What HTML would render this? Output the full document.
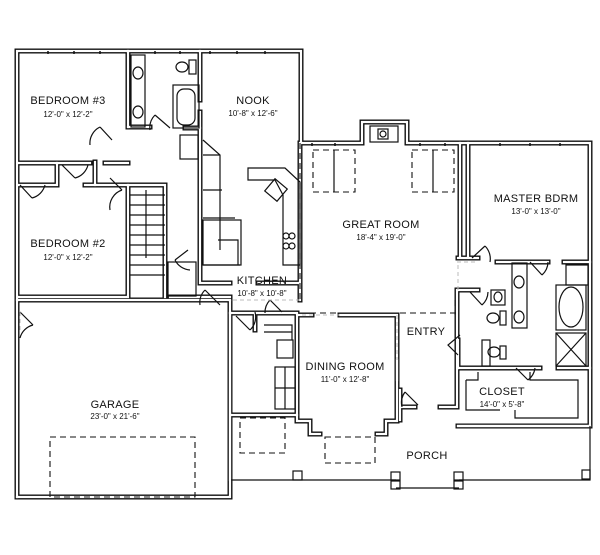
<!DOCTYPE html>
<html><head><meta charset="utf-8"><style>
html,body{margin:0;padding:0;background:#fff}
svg{display:block}
text{font-family:"Liberation Sans",sans-serif;fill:#111;text-anchor:middle}
.l{font-size:11px;letter-spacing:.3px}
.d{font-size:8px}
.w{fill:none;stroke:#111;stroke-width:5;stroke-linejoin:miter;stroke-linecap:square}
.wi{fill:none;stroke:#fff;stroke-width:2.2;stroke-linejoin:miter;stroke-linecap:square}
.t{fill:none;stroke:#111;stroke-width:1.2}
.ds{fill:none;stroke:#111;stroke-width:1.1;stroke-dasharray:6 4}
.lt{fill:none;stroke:#bbb;stroke-width:1;stroke-dasharray:4 3}
</style></head><body>
<svg width="600" height="555" viewBox="0 0 600 555" xmlns="http://www.w3.org/2000/svg">
<defs>
<g id="walls">
<path d="M17,497 V51 H301 V143 H362 V122 H407 V143 H590 V426 H458"/>
<path d="M17,497 H230 V301"/>
<path d="M17,300 H230"/>
<path d="M128,51 V127"/>
<path d="M19,163 H90 M105,163 H128"/>
<path d="M19,185 H57 M57,163 V185 M85,185 H128"/>
<path d="M128,185 V297 H19"/>
<path d="M128,127 H150"/>
<path d="M95,162 V185"/>
<path d="M130,185 H165 V297"/>
<path d="M170,297 H200 M200,297 H230"/>
<path d="M200,51 V100 M200,112 V128 H185"/>
<path d="M200,128 V283 H230 M258,283 H298"/>
<path d="M230,313 H255 V330 M255,313 H297"/>
<path d="M230,313 V415 H297 M230,415 V480"/>
<path d="M300,143 V300"/>
<path d="M312,315 H297 V421 H310 V434 H320 M377,434 H386 V421 H397 V315 H340"/>
<path d="M397,360 V380"/>
<path d="M400,390 V420 M400,407 H415 M440,407 H457 V290"/>
<path d="M460,143 V258 M478,258 H458 M468,143 V258"/>
<path d="M458,426 H590"/>
<path d="M458,368 H540 M558,368 H590"/>
<path d="M458,340 V368 M478,290 H458 M497,262 H548 M564,262 H590"/>
</g>
</defs>
<use href="#walls" class="w"/>
<use href="#walls" class="wi"/>

<path class="t" d="M231,480 H396 M396,488 H459 M459,480 H590 V426" />
<g class="t" fill="#fff">
<rect x="293" y="471" width="9" height="9"/>
<rect x="391" y="472" width="9" height="8"/><rect x="391" y="481" width="9" height="8"/>
<rect x="454" y="472" width="9" height="8"/><rect x="454" y="481" width="9" height="8"/>
<rect x="582" y="470" width="8" height="9"/>
</g>
<g stroke="#111" stroke-width="1.5">
<path d="M48,51 V54 M74,51 V54 M100,51 V54 M155,51 V54 M180,51 V54 M210,51 V54 M237,51 V54 M265,51 V54"/>
<path d="M312,143 V146 M335,143 V146 M420,143 V146 M445,143 V146 M500,143 V146 M530,143 V146 M560,143 V146"/>
</g>
<rect class="ds" x="50" y="437" width="145" height="60"/>
<rect class="ds" x="240" y="418" width="45" height="35"/>
<rect class="ds" x="325" y="437" width="50" height="26"/>
<rect class="ds" x="313" y="150" width="42" height="42"/><path class="t" d="M334,150 V192"/>
<rect class="ds" x="412" y="150" width="42" height="42"/><path class="t" d="M433,150 V192"/>
<path class="ds" d="M300,143 V300 M300,313 H457 M455,300 V315"/>
<rect class="t" x="370" y="126" width="28" height="16"/><rect class="t" x="378" y="129" width="10" height="10"/><circle class="t" cx="383" cy="134" r="3"/>
<rect class="t" x="131" y="55" width="14" height="72"/>
<ellipse class="t" cx="138" cy="73" rx="5" ry="6"/><ellipse class="t" cx="138" cy="112" rx="5" ry="6"/>
<rect class="t" x="189" y="60" width="7" height="14"/><ellipse class="t" cx="182" cy="67" rx="6" ry="5"/>
<rect class="t" x="173" y="85" width="26" height="43"/><rect class="t" x="177" y="89" width="18" height="36" rx="7"/>
<rect class="t" x="180" y="135" width="18" height="24"/>
<g class="t"><path d="M130,195 H165 M130,205 H165 M130,215 H165 M130,225 H165 M130,235 H165 M130,245 H165 M130,255 H165 M130,265 H165 M130,275 H165 M146,190 V258"/></g>
<rect class="t" x="168" y="262" width="28" height="34"/>
<path class="t" d="M248,168 H285 L300,182 V265 H283 V195 L275,180 H248 Z"/>
<rect class="t" x="268" y="182" width="16" height="16" transform="rotate(40 276 190)"/>
<circle class="t" cx="286" cy="236" r="3"/><circle class="t" cx="292" cy="236" r="3"/><circle class="t" cx="286" cy="246" r="3"/><circle class="t" cx="292" cy="246" r="3"/>
<path class="t" d="M203,140 L220,155 V250 M203,155 H220 M203,190 H222 M203,218 H235 M218,240 H238 V265 M203,265 H240"/>
<rect class="t" x="203" y="220" width="38" height="45"/>
<rect class="t" x="277" y="340" width="16" height="18"/>
<rect class="t" x="275" y="367" width="20" height="42"/>
<path class="t" d="M275,388 H295 M285,367 V409 M264,325 H292 V340 M264,332 H292"/>
<rect class="t" x="512" y="263" width="15" height="65"/>
<ellipse class="t" cx="519" cy="282" rx="5" ry="6"/><ellipse class="t" cx="519" cy="317" rx="5" ry="6"/>
<rect class="t" x="491" y="290" width="14" height="15"/><ellipse class="t" cx="498" cy="297" rx="4" ry="5"/>
<rect class="t" x="500" y="311" width="6" height="14"/><ellipse class="t" cx="493" cy="318" rx="6" ry="5"/>
<rect class="t" x="482" y="340" width="8" height="26"/><rect class="t" x="500" y="346" width="6" height="13"/><ellipse class="t" cx="494" cy="352" rx="6" ry="5"/>
<rect class="t" x="556" y="285" width="30" height="45"/><ellipse class="t" cx="571" cy="307" rx="12" ry="20"/>
<rect class="t" x="556" y="333" width="30" height="33"/><path class="t" d="M556,333 L586,366 M586,333 L556,366"/>
<rect class="t" x="566" y="265" width="22" height="20"/>
<path class="t" d="M466,380 H478 V372 M530,372 V380 H578 V418 H515 V410 M500,410 H466 V380"/>
<g class="t">
<path d="M100,127 L112,140 M100,127 A18,18 0 0 0 90,145"/>
<path d="M62,165 L75,178 M75,178 A18,18 0 0 0 88,165"/>
<path d="M20,185 L32,198 M32,198 A18,18 0 0 0 45,185"/>
<path d="M110,178 L122,190 M122,190 A18,18 0 0 0 110,210"/>
<path d="M155,115 L170,128 M155,115 A18,18 0 0 0 150,130"/>
<path d="M175,260 L188,250 M175,260 A18,18 0 0 0 190,270"/>
<path d="M205,290 L220,305 M205,290 A18,18 0 0 0 200,305"/>
<path d="M236,316 L250,330 M250,330 A18,18 0 0 0 255,312"/>
<path d="M270,300 L282,312 M270,300 A18,18 0 0 0 265,313"/>
<path d="M20,312 L33,325 M33,325 A18,18 0 0 0 20,338"/>
<path d="M472,258 L485,246 M485,246 A18,18 0 0 1 490,262"/>
<path d="M470,292 L482,305 M482,305 A18,18 0 0 0 488,292"/>
<path d="M530,262 L542,275 M542,275 A18,18 0 0 0 548,262"/>
<path d="M460,335 L448,345 L458,355"/>
<path d="M418,405 L405,392 M405,392 A18,18 0 0 0 402,407"/>
<path d="M516,368 L528,380 M528,380 A18,18 0 0 0 535,368"/>
</g>
<path class="lt" d="M300,300 H230 M457,262 H478 M458,290 V262 M302,315 H340 M397,315 V360 M20,312 V330"/>
<text class="l" x="68" y="104">BEDROOM #3</text><text class="d" x="68" y="117">12'-0" x 12'-2"</text>
<text class="l" x="253" y="104">NOOK</text><text class="d" x="253" y="116">10'-8" x 12'-6"</text>
<text class="l" x="68" y="247">BEDROOM #2</text><text class="d" x="68" y="260">12'-0" x 12'-2"</text>
<text class="l" x="262" y="284">KITCHEN</text><text class="d" x="262" y="296">10'-8" x 10'-8"</text>
<text class="l" x="381" y="228">GREAT ROOM</text><text class="d" x="381" y="240">18'-4" x 19'-0"</text>
<text class="l" x="536" y="202">MASTER BDRM</text><text class="d" x="536" y="214">13'-0" x 13'-0"</text>
<text class="l" x="426" y="335">ENTRY</text>
<text class="l" x="345" y="370">DINING ROOM</text><text class="d" x="345" y="382">11'-0" x 12'-8"</text>
<text class="l" x="502" y="395">CLOSET</text><text class="d" x="502" y="407">14'-0" x 5'-8"</text>
<text class="l" x="115" y="408">GARAGE</text><text class="d" x="115" y="419">23'-0" x 21'-6"</text>
<text class="l" x="427" y="459">PORCH</text>
</svg>
</body></html>
